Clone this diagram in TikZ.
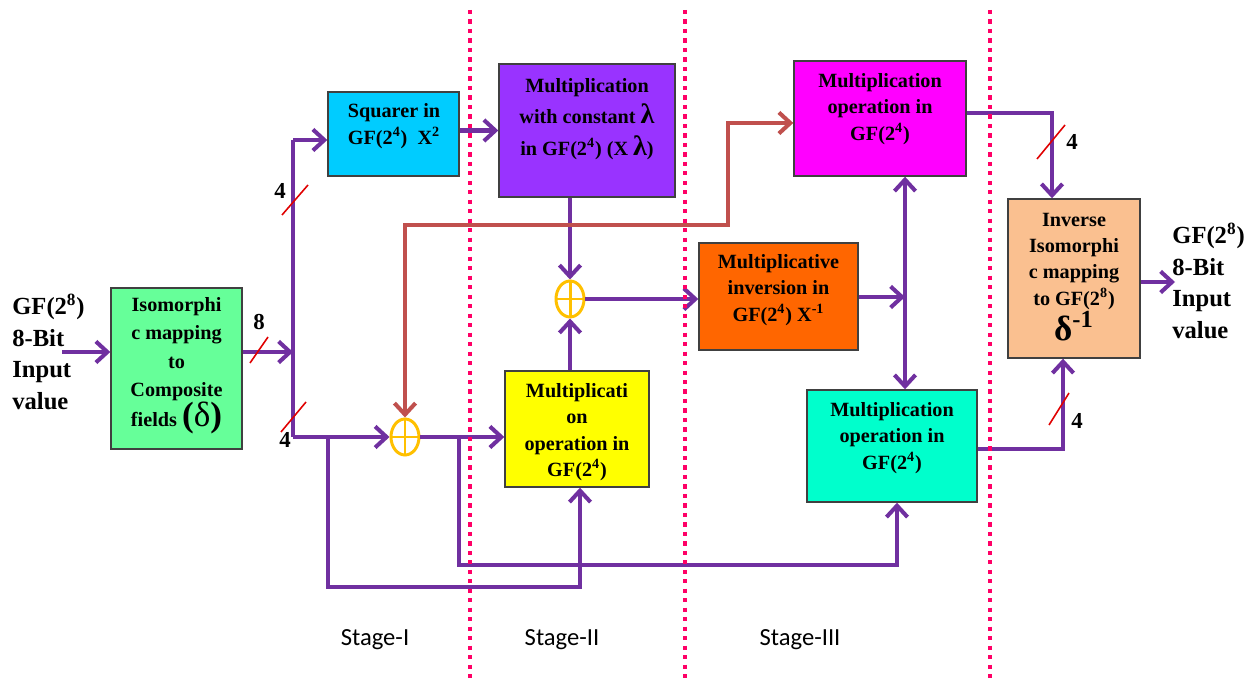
\documentclass[tikz,border=0pt]{standalone}
\usepackage{fontspec}
\setmainfont{Liberation Serif}
\newfontfamily\stagefont{Carlito}
\usetikzlibrary{arrows.meta,shapes.geometric,calc}
\definecolor{cWire}{HTML}{7030A0}
\definecolor{cFbk}{HTML}{C0504D}
\definecolor{cSep}{HTML}{FF0066}
\definecolor{cXor}{HTML}{FFC000}
\definecolor{cSlash}{HTML}{E00000}
\definecolor{cGreen}{HTML}{66FF99}
\definecolor{cCyan}{HTML}{00CCFF}
\definecolor{cViolet}{HTML}{9933FF}
\definecolor{cYellow}{HTML}{FFFF00}
\definecolor{cMag}{HTML}{FF00FF}
\definecolor{cOrange}{HTML}{FF6600}
\definecolor{cTeal}{HTML}{00FFCC}
\definecolor{cPeach}{HTML}{FAC090}
\definecolor{cBorder}{HTML}{404040}
\begin{document}
\begin{tikzpicture}[x=0.02cm,y=-0.02cm,
  blk/.style={draw=cBorder, line width=0.8pt, inner sep=0pt},
  bsz/.style 2 args={minimum width=#1*0.02cm, minimum height=#2*0.02cm},
  btxt/.style={align=center, font=\fontsize{11.5}{15}\selectfont\bfseries, inner sep=0pt},
  iotxt/.style={align=left, font=\fontsize{14}{18}\selectfont\bfseries, inner sep=0pt, anchor=west},
  lbl/.style={font=\fontsize{13}{13}\selectfont\bfseries, inner sep=0pt},
  stg/.style={font=\stagefont\fontsize{14}{14}\selectfont, inner sep=0pt},
  wr/.style={draw=cWire, line width=2.3pt},
  rd/.style={draw=cFbk, line width=2.3pt},
  arr/.style={-{Straight Barb[length=6.5pt,width=12pt]}},
  arr2/.style={{Straight Barb[length=6.5pt,width=12pt]}-{Straight Barb[length=6.5pt,width=12pt]}},
  xorn/.style={ellipse, draw=cXor, fill=white, line width=1.7pt, minimum width=0.56cm, minimum height=0.72cm, inner sep=0pt},
  xorp/.style={draw=cXor, line width=1.7pt},
  slashl/.style={draw=cSlash, line width=0.9pt},
  sepl/.style={draw=cSep, line width=2pt, dash pattern=on 2.4pt off 3pt}
]
\useasboundingbox (0,0) rectangle (1254,678);
\fill[white] (0,0) rectangle (1254,678);

% boxes
\node[blk, fill=cGreen,  bsz={131}{161}] (gbox)   at (176.5,368.5) {};
\node[blk, fill=cCyan,   bsz={131}{84}]  (sbox)   at (393.5,134) {};
\node[blk, fill=cViolet, bsz={176}{133}] (mbox)   at (587,130.5) {};
\node[blk, fill=cYellow, bsz={144}{116}] (ybox)   at (577,429) {};
\node[blk, fill=cMag,    bsz={172}{115}] (magbox) at (880,118.5) {};
\node[blk, fill=cOrange, bsz={159}{107}] (obox)   at (778.5,296.5) {};
\node[blk, fill=cTeal,   bsz={170}{112}] (tbox)   at (892,446) {};
\node[blk, fill=cPeach,  bsz={132}{159}] (pbox)   at (1074,278.5) {};

% box texts
\node[btxt, font=\fontsize{11.5}{16}\selectfont\bfseries] (gtxt) at (176.5,366) {Isomorphi\\c mapping\\to\\Composite\\fields {\fontsize{20}{20}\selectfont(\textmd{δ})}};
\node[btxt] (stxt) at (394,126) {Squarer in\\GF(2\textsuperscript{4})\ \ X\textsuperscript{2}};
\node[btxt] (mtxt) at (587,119) {Multiplication\\[3pt]with constant {\fontsize{16}{16}\selectfont λ}\\[3pt]in GF(2\textsuperscript{4}) (X {\fontsize{16}{16}\selectfont λ})};
\node[btxt] (ytxt) at (577,432) {Multiplicati\\on\\operation in\\GF(2\textsuperscript{4})};
\node[btxt] (magtxt) at (880,109) {Multiplication\\operation in\\GF(2\textsuperscript{4})};
\node[btxt] (otxt) at (778.5,290) {Multiplicative\\inversion in\\GF(2\textsuperscript{4}) X\textsuperscript{-1}};
\node[btxt] (ttxt) at (892,438) {Multiplication\\operation in\\GF(2\textsuperscript{4})};
\node[btxt] (ptxt) at (1074,277) {Inverse\\Isomorphi\\c mapping\\to GF(2\textsuperscript{8})\\{\fontsize{20}{20}\selectfont δ\textsuperscript{-1}}};

% XOR gates
\node[xorn] (x1) at (405,437) {};
\node[xorn] (x2) at (570,299) {};
\draw[xorp] (x1.north) -- (x1.south) (x1.west) -- (x1.east);
\draw[xorp] (x2.north) -- (x2.south) (x2.west) -- (x2.east);

% input / output texts
\node[iotxt] (intxt) at (12,352) {GF(2\textsuperscript{8})\\8-Bit\\Input\\value};
\node[iotxt] (outtxt) at (1172,281) {GF(2\textsuperscript{8})\\8-Bit\\Input\\value};

% coordinates
\coordinate (inA) at (62,352);
\coordinate (j8) at (293,352);
\coordinate (jt) at (293,140);
\coordinate (jb) at (293,437);
\coordinate (b1) at (328,437);
\coordinate (b1d) at (328,587);
\coordinate (b1u) at (580,587);
\coordinate (b2) at (459,437);
\coordinate (b2d) at (459,565);
\coordinate (b2u) at (897,565);
\coordinate (jn) at (905,297);
\coordinate (rA) at (405,225);
\coordinate (rB) at (728,225);
\coordinate (rC) at (728,123);
\coordinate (pT) at (1052,113);
\coordinate (pB) at (1063,449);
\coordinate (outA) at (1175,282);

% wires
\draw[wr,arr] (inA) -- (inA -| gbox.west);
\draw[wr,arr] (gbox.east |- j8) -- (j8);
\draw[wr] (jt) -- (jb);
\draw[wr,arr] (jt) -- (jt -| sbox.west);
\draw[wr,arr] (mbox.west -| sbox.east) -- (mbox.west);
\draw[wr,arr] (jb) -- (x1.west);
\draw[wr,arr] (x1.east) -- (x1.east -| ybox.west);
\draw[wr,arr] (b1) -- (b1d) -- (b1u) -- (b1u |- ybox.south);
\draw[wr,arr] (b2) -- (b2d) -- (b2u) -- (b2u |- tbox.south);
\draw[wr,arr] (x2.north |- mbox.south) -- (x2.north);
\draw[wr,arr] (x2.south |- ybox.north) -- (x2.south);
\draw[wr,arr] (x2.east) -- (x2.east -| obox.west);
\draw[wr,arr] (obox.east |- jn) -- (jn);
\draw[wr,arr] (jn) -- (jn |- magbox.south);
\draw[wr,arr] (jn) -- (jn |- tbox.north);
\draw[rd,arr2] (x1.north) -- (rA) -- (rB) -- (rC) -- (rC -| magbox.west);
\draw[wr,arr] (magbox.east |- pT) -- (pT) -- (pT |- pbox.north);
\draw[wr,arr] (tbox.east |- pB) -- (pB) -- (pB |- pbox.south);
\draw[wr,arr] (pbox.east |- outA) -- (outA);

% bus width slashes and labels
\draw[slashl] (250,363) -- (268,337);
\draw[slashl] (282,215) -- (308,185);
\draw[slashl] (281,432) -- (306,402);
\draw[slashl] (1037,159) -- (1065,125);
\draw[slashl] (1049,425) -- (1069,393);
\node[lbl] (l8)  at (259,322) {8};
\node[lbl] (l4a) at (280,191) {4};
\node[lbl] (l4b) at (285,440) {4};
\node[lbl] (l4c) at (1072,142) {4};
\node[lbl] (l4d) at (1077,421) {4};

% stage separators
\draw[sepl] (470,10) -- (470,678);
\draw[sepl] (685,10) -- (685,678);
\draw[sepl] (990,10) -- (990,678);

% stage labels
\node[stg] (s1) at (375,640) {Stage-I};
\node[stg] (s2) at (562,640) {Stage-II};
\node[stg] (s3) at (800,640) {Stage-III};
\end{tikzpicture}
\end{document}
